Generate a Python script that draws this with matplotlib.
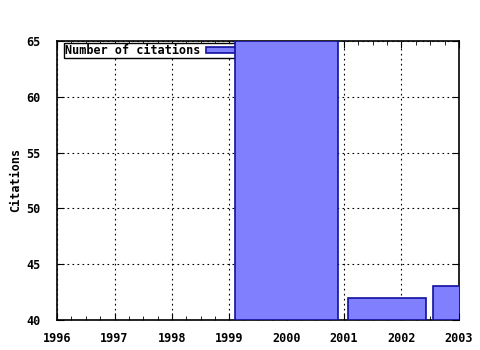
import numpy as np
import matplotlib.pyplot as plt
from matplotlib.ticker import MultipleLocator

years = [2000, 2002, 2003]
citations = [65, 42, 43]
series_label = "Number of citations"

# gnuplot style box widths: boxes reach halfway to neighbours, scaled by 0.9
x = np.array(years, dtype=float)
mids = (x[1:] + x[:-1]) / 2
left_edges = np.concatenate([[x[0] - (mids[0] - x[0])], mids])
right_edges = np.concatenate([mids, [x[-1] + (x[-1] - mids[-1])]])
centers = (left_edges + right_edges) / 2
widths = (right_edges - left_edges) * 0.9

plt.rcParams['font.family'] = 'DejaVu Sans Mono'
plt.rcParams['font.weight'] = 'bold'

fig = plt.figure(figsize=(4.8, 3.5), dpi=100)
ax = fig.add_axes([0.119, 0.086, 0.837, 0.797])

ymin = 40
ax.bar(centers, np.array(citations) - ymin, bottom=ymin, width=widths,
       color='#8080ff', edgecolor='#1010a0', linewidth=1.2, zorder=3,
       label=series_label)

ax.set_xlim(1996, 2003)
ax.set_ylim(40, 65)
ax.xaxis.set_major_locator(MultipleLocator(1))
ax.xaxis.set_minor_locator(MultipleLocator(0.25))
ax.yaxis.set_major_locator(MultipleLocator(5))
ax.grid(True, which='major', color='black', linestyle=(0, (1.5, 3)), linewidth=0.8, zorder=1)
ax.tick_params(which='both', direction='in', top=True, right=True, labelsize=8.5)
ax.tick_params(axis='x', pad=9)
ax.tick_params(axis='y', pad=12)
ax.tick_params(which='major', length=5)
ax.tick_params(which='minor', length=3)
for s in ax.spines.values():
    s.set_linewidth(1.2)

ax.set_ylabel("Citations", fontsize=8.5, fontweight='bold', labelpad=3)

leg = ax.legend(loc='upper left', bbox_to_anchor=(0.017, 0.993), borderaxespad=0,
                markerfirst=False, fontsize=8.5, frameon=True,
                fancybox=False, edgecolor='black', framealpha=1,
                borderpad=0.1, handlelength=3.0, handleheight=0.5,
                handletextpad=0.5)
leg.get_frame().set_linewidth(1.0)
leg.set_zorder(2)

fig.savefig("out.png", dpi=100)
